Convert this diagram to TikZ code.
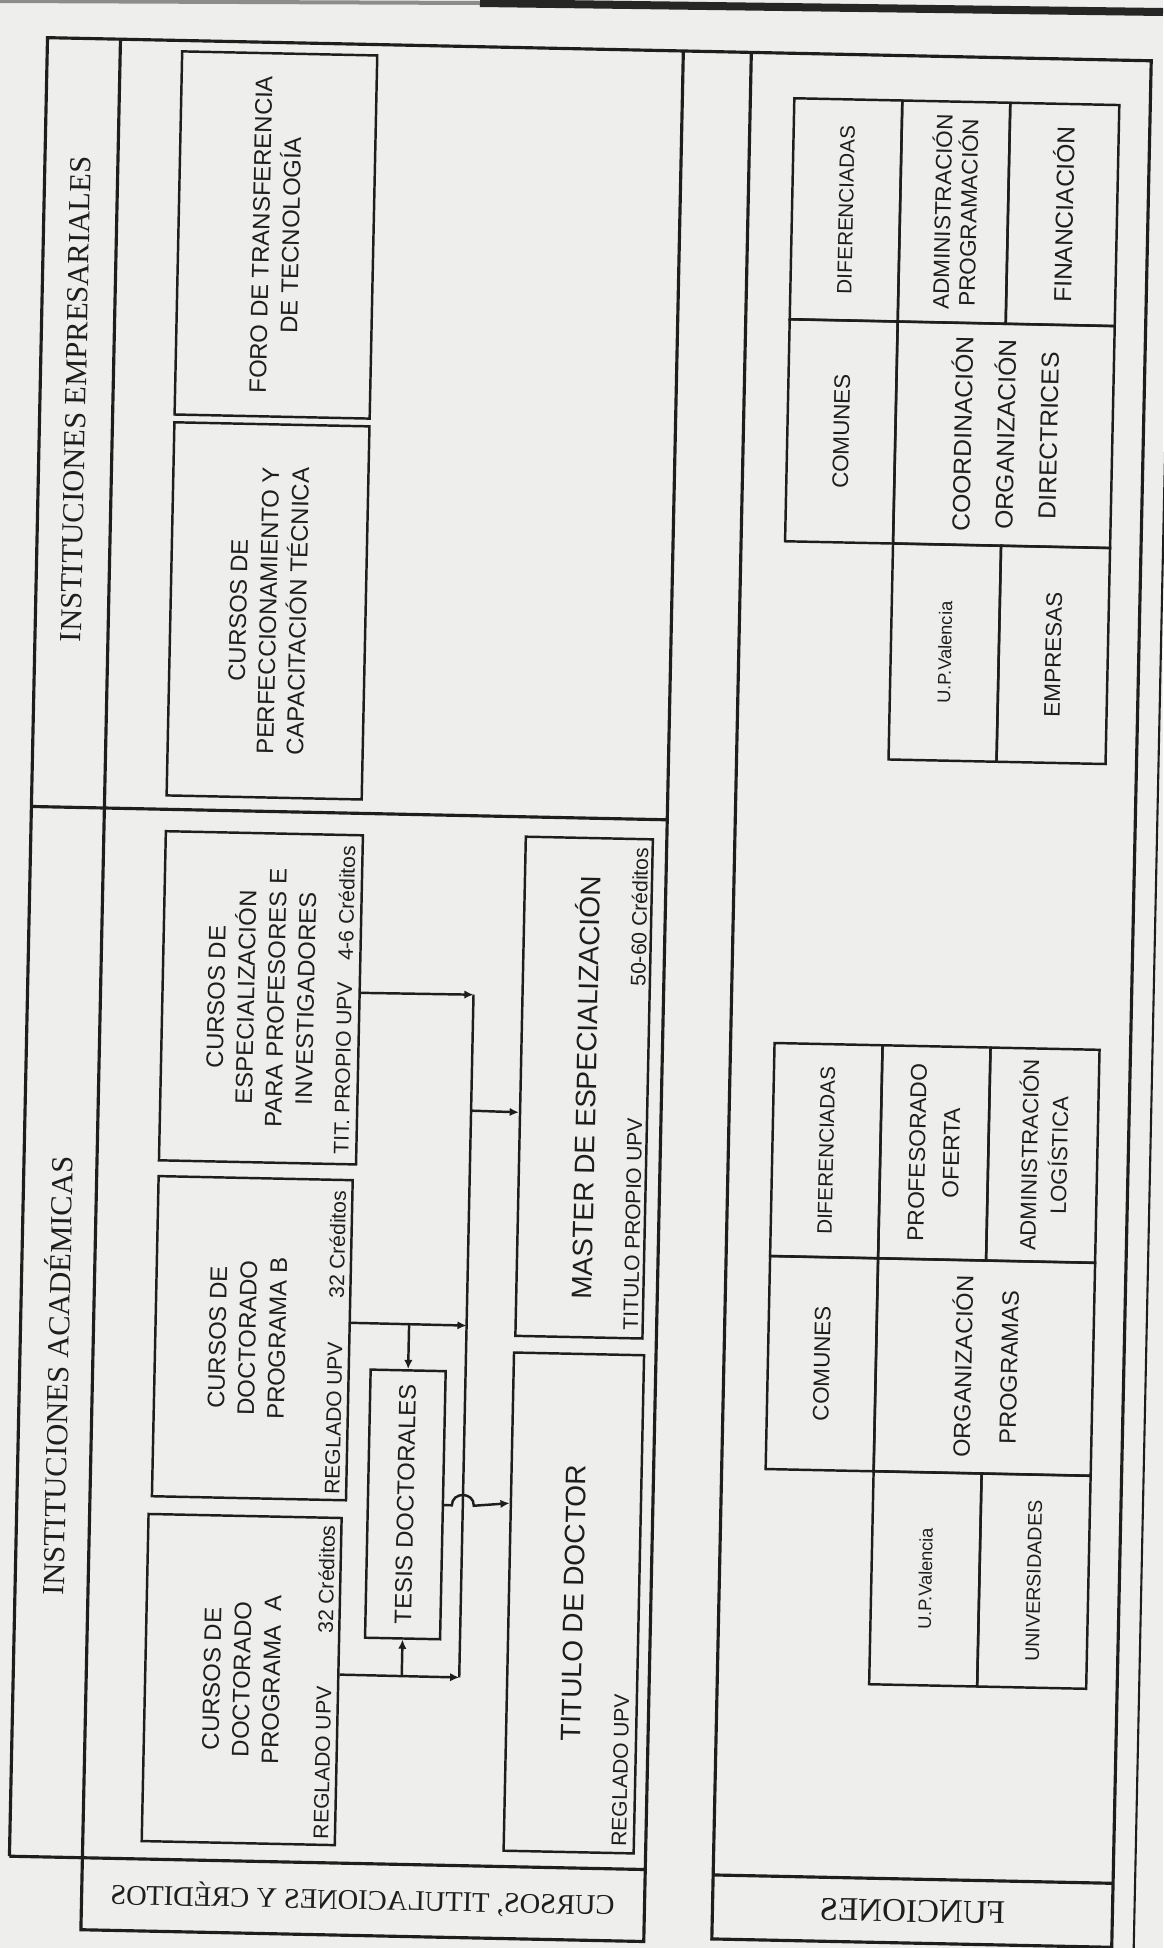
\documentclass[tikz,border=0pt]{standalone}
\usepackage{fontspec}
\usepackage{tikz}
\usetikzlibrary{arrows.meta}
\setmainfont{Liberation Sans}
\newfontfamily\boxfont{Liberation Sans}
\newfontfamily\headfont{Liberation Serif}
\definecolor{paper}{RGB}{238,238,236}
\definecolor{ink}{RGB}{30,30,30}
\tikzstyle{frame} = [draw=ink, line width=0.9pt]
\tikzstyle{course} = [rectangle, draw=ink, line width=0.7pt, inner sep=0pt]
\tikzstyle{cell} = [rectangle, draw=ink, line width=0.7pt, inner sep=0pt]
\tikzstyle{caption} = [rotate=90, align=center, inner sep=0pt, text=ink, font=\boxfont\fontsize{6.8}{8.5}\selectfont]
\tikzstyle{bigcaption} = [caption, font=\boxfont\fontsize{8}{10}\selectfont]
\tikzstyle{note} = [rotate=90, inner sep=0pt, text=ink, font=\boxfont\fontsize{6}{7}\selectfont]
\tikzstyle{heading} = [rotate=90, inner sep=0pt, text=ink, font=\headfont\fontsize{8.7}{10}\selectfont]
\tikzstyle{mirrored} = [xscale=-1, inner sep=0pt, text=ink, font=\headfont\fontsize{8.1}{10}\selectfont]
\tikzstyle{link} = [draw=ink, line width=0.7pt, -{Latex[length=2.6pt,width=2.4pt]}]
\begin{document}
\begin{tikzpicture}[x=0.01cm, y=-0.01cm]
	\fill[paper] (0,0) rectangle (1163,1948);
	\useasboundingbox (0,0) rectangle (1163,1948);
	\draw[black!45, line width=0.04cm] (0,1) -- (480,3);
	\draw[black!85, line width=0.08cm] (480,3) -- (1163,12);
	\begin{scope}[rotate around={-1.2:(581,974)}, every node/.append style={transform shape}]
		\draw[frame] (28,1868) -- (28,49) -- (1132,49) -- (1132,1936) -- (732,1936) -- (732,49);
		\draw[frame] (101,49) -- (101,1940) -- (664,1940) -- (664,49);
		\draw[frame] (28,1868) -- (664,1868);
		\draw[frame] (28,818) -- (664,818);
		\draw[frame] (732,1872) -- (1132,1872);
		\draw[frame, line width=0.6pt] (1154,0) -- (1154,1960);

		\node[heading] (empresariales) at (64,410) {INSTITUCIONES EMPRESARIALES};
		\node[heading] (academicas) at (64,1387) {INSTITUCIONES ACADÉMICAS};
		\node[mirrored] (cursos) at (382,1904) {CURSOS, TITULACIONES Y CRÉDITOS};
		\node[mirrored, font=\headfont\fontsize{9.4}{11}\selectfont] (funciones) at (932,1904) {FUNCIONES};

		\node[course, minimum width=1.95cm, minimum height=3.63cm] (foro) at (260.5,241.5) {};
		\node[course, minimum width=1.95cm, minimum height=3.73cm] (perf) at (260.5,617.5) {};
		\node[course, minimum width=1.97cm, minimum height=3.29cm] (espec) at (261.5,1004.5) {};
		\node[course, minimum width=1.94cm, minimum height=3.20cm] (docb) at (260,1345) {};
		\node[course, minimum width=1.93cm, minimum height=3.27cm] (doca) at (256.5,1686.5) {};
		\node[course, minimum width=0.75cm, minimum height=2.68cm] (tesis) at (416.5,1508) {};
		\node[course, minimum width=1.27cm, minimum height=4.99cm] (master) at (586.5,1087.5) {};
		\node[course, minimum width=1.30cm, minimum height=4.98cm] (titulo) at (587,1603) {};

		\node[caption] (foro-t) at (foro) {FORO DE TRANSFERENCIA\\DE TECNOLOGÍA};
		\node[caption] (perf-t) at (perf) {CURSOS DE\\PERFECCIONAMIENTO Y\\CAPACITACIÓN TÉCNICA};
		\node[caption] (espec-t) at (espec) {CURSOS DE\\ESPECIALIZACIÓN\\PARA PROFESORES E\\INVESTIGADORES};
		\node[caption] (docb-t) at (255,1345) {CURSOS DE\\DOCTORADO\\PROGRAMA B};
		\node[caption] (doca-t) at (doca) {CURSOS DE\\DOCTORADO\\PROGRAMA\ \ A};
		\node[caption] (tesis-t) at (tesis) {TESIS DOCTORALES};
		\node[bigcaption] (master-t) at (master) {MASTER DE ESPECIALIZACIÓN};
		\node[bigcaption] (titulo-t) at (titulo) {TITULO DE DOCTOR};

		\node[note, anchor=west] (espec-n1) at (345,1160) {TIT. PROPIO UPV};
		\node[note, anchor=east] (espec-n2) at (345,850) {4-6 Créditos};
		\node[note, anchor=west] (docb-n1) at (343,1500) {REGLADO UPV};
		\node[note, anchor=east] (docb-n2) at (343,1195) {32 Créditos};
		\node[note, anchor=west] (doca-n1) at (339,1845) {REGLADO UPV};
		\node[note, anchor=east] (doca-n2) at (339,1530) {32 Créditos};
		\node[note, anchor=west] (master-n1) at (638,1330) {TITULO PROPIO UPV};
		\node[note, anchor=east] (master-n2) at (638,846) {50-60 Créditos};
		\node[note, anchor=west] (titulo-n1) at (637,1846) {REGLADO UPV};

		\coordinate (bus-top) at (474,997);
		\coordinate (bus-m) at (474,1113);
		\coordinate (bus-b) at (474,1328);
		\coordinate (bus-a) at (474,1680);
		\coordinate (tb-b) at (416.5,1328);
		\coordinate (tb-a) at (416.5,1680);
		\coordinate (hop-l) at (463,1508);
		\coordinate (hop-r) at (485,1508);

		\draw[draw=ink, line width=0.7pt] (bus-top) -- (bus-a);
		\draw[link] (espec.4) -- (bus-top);
		\draw[link] (bus-m) -- (master.202);
		\draw[link] (docb.10) -- (bus-b);
		\draw[link] (tb-b) -- (tesis.north);
		\draw[link] (doca.4) -- (bus-a);
		\draw[link] (tb-a) -- (tesis.south);
		\draw[link] (tesis.east) -- (hop-l) .. controls +(0,-14) and +(0,-14) .. (hop-r) -- (titulo.124);

		\node[cell, minimum width=1.08cm, minimum height=2.21cm] (udif) at (830,204.5) {};
		\node[cell, minimum width=1.08cm, minimum height=2.22cm] (ucom) at (830,426) {};
		\node[cell, minimum width=1.08cm, minimum height=2.21cm] (uadm) at (938,204.5) {};
		\node[cell, minimum width=1.09cm, minimum height=2.21cm] (ufin) at (1046.5,204.5) {};
		\node[cell, minimum width=2.17cm, minimum height=2.22cm] (ucoo) at (992.5,426) {};
		\node[cell, minimum width=1.08cm, minimum height=2.16cm] (uupv) at (938,645) {};
		\node[cell, minimum width=1.09cm, minimum height=2.16cm] (uemp) at (1046.5,645) {};

		\node[caption, font=\boxfont\fontsize{5.9}{7}\selectfont] (udif-t) at (udif) {DIFERENCIADAS};
		\node[caption, font=\boxfont\fontsize{6.4}{7}\selectfont] (ucom-t) at (ucom) {COMUNES};
		\node[caption, font=\boxfont\fontsize{6.4}{7.4}\selectfont] (uadm-t) at (uadm) {ADMINISTRACIÓN\\PROGRAMACIÓN};
		\node[caption, font=\boxfont\fontsize{7}{8}\selectfont] (ufin-t) at (ufin) {FINANCIACIÓN};
		\node[caption, font=\boxfont\fontsize{7}{12.2}\selectfont] (ucoo-t) at (ucoo) {COORDINACIÓN\\ORGANIZACIÓN\\DIRECTRICES};
		\node[caption, font=\boxfont\fontsize{5.2}{6}\selectfont] (uupv-t) at (uupv) {U.P.Valencia};
		\node[caption, font=\boxfont\fontsize{6.4}{7}\selectfont] (uemp-t) at (uemp) {EMPRESAS};

		\node[cell, minimum width=1.08cm, minimum height=2.13cm] (ldif) at (830,1145.5) {};
		\node[cell, minimum width=1.08cm, minimum height=2.13cm] (lcom) at (830,1358.5) {};
		\node[cell, minimum width=1.08cm, minimum height=2.13cm] (lpro) at (938,1145.5) {};
		\node[cell, minimum width=1.09cm, minimum height=2.13cm] (ladm) at (1046.5,1145.5) {};
		\node[cell, minimum width=2.17cm, minimum height=2.13cm] (lorg) at (992.5,1358.5) {};
		\node[cell, minimum width=1.08cm, minimum height=2.13cm] (lupv) at (938,1571.5) {};
		\node[cell, minimum width=1.09cm, minimum height=2.13cm] (luni) at (1046.5,1571.5) {};

		\node[caption, font=\boxfont\fontsize{5.9}{7}\selectfont] (ldif-t) at (ldif) {DIFERENCIADAS};
		\node[caption, font=\boxfont\fontsize{6.4}{7}\selectfont] (lcom-t) at (lcom) {COMUNES};
		\node[caption, font=\boxfont\fontsize{6.5}{9.7}\selectfont] (lpro-t) at (lpro) {PROFESORADO\\OFERTA};
		\node[caption, font=\boxfont\fontsize{6.3}{8.5}\selectfont] (ladm-t) at (ladm) {ADMINISTRACIÓN\\LOGÍSTICA};
		\node[caption, font=\boxfont\fontsize{6.7}{13}\selectfont] (lorg-t) at (lorg) {ORGANIZACIÓN\\PROGRAMAS};
		\node[caption, font=\boxfont\fontsize{5.2}{6}\selectfont] (lupv-t) at (lupv) {U.P.Valencia};
		\node[caption, font=\boxfont\fontsize{5.6}{7}\selectfont] (luni-t) at (luni) {UNIVERSIDADES};
	\end{scope}
\end{tikzpicture}
\end{document}
